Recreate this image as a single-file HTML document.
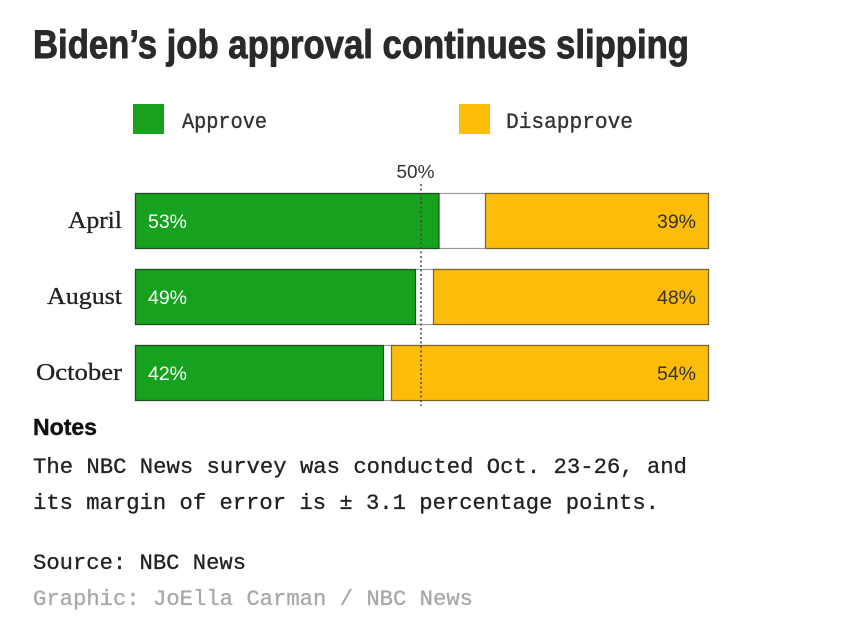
<!DOCTYPE html>
<html>
<head>
<meta charset="utf-8">
<style>
  html,body{margin:0;padding:0;background:#fff;}
  svg{display:block;}
</style>
</head>
<body>
<svg width="860" height="630" viewBox="0 0 860 630" xmlns="http://www.w3.org/2000/svg">
  <rect x="0" y="0" width="860" height="630" fill="#fff"/>

  <!-- Title -->
  <text x="33" y="58" font-family="'Liberation Sans', sans-serif" font-weight="bold" font-size="40" fill="#2a2a2a" stroke="#2a2a2a" stroke-width="0.9" textLength="656" lengthAdjust="spacingAndGlyphs">Biden’s job approval continues slipping</text>

  <!-- Legend -->
  <rect x="133" y="104" width="31" height="30" fill="#16a11f"/>
  <text x="182" y="128" font-family="'Liberation Mono', monospace" font-size="22" fill="#333" stroke="#333" stroke-width="0.35" textLength="85" lengthAdjust="spacingAndGlyphs">Approve</text>
  <rect x="459" y="104" width="31" height="30" fill="#fdbc07"/>
  <text x="506" y="128" font-family="'Liberation Mono', monospace" font-size="22" fill="#333" stroke="#333" stroke-width="0.35" textLength="127" lengthAdjust="spacingAndGlyphs">Disapprove</text>

  <!-- 50% label -->
  <text x="415.5" y="178" text-anchor="middle" font-family="'Liberation Sans', sans-serif" font-size="18" fill="#333" textLength="38" lengthAdjust="spacingAndGlyphs">50%</text>

  <!-- Bars -->
  <g stroke-width="1.2">
    <!-- April -->
    <rect x="135.5" y="193.5" width="573" height="55" fill="#fff" stroke="#9a9a9a"/>
    <rect x="135.5" y="193.5" width="303.5" height="55" fill="#16a11f" stroke="#1c4f1c"/>
    <rect x="485.5" y="193.5" width="223" height="55" fill="#fdbc07" stroke="#7a6420"/>
    <!-- August -->
    <rect x="135.5" y="269.5" width="573" height="55" fill="#fff" stroke="#9a9a9a"/>
    <rect x="135.5" y="269.5" width="280" height="55" fill="#16a11f" stroke="#1c4f1c"/>
    <rect x="433.5" y="269.5" width="275" height="55" fill="#fdbc07" stroke="#7a6420"/>
    <!-- October -->
    <rect x="135.5" y="345.5" width="573" height="55" fill="#fff" stroke="#9a9a9a"/>
    <rect x="135.5" y="345.5" width="248" height="55" fill="#16a11f" stroke="#1c4f1c"/>
    <rect x="391.5" y="345.5" width="317" height="55" fill="#fdbc07" stroke="#7a6420"/>
  </g>

  <!-- 50% dotted line -->
  <line x1="421" y1="184" x2="421" y2="406" stroke="#444" stroke-width="1.5" stroke-dasharray="2,2.5"/>

  <!-- Category labels -->
  <g font-family="'Liberation Serif', serif" font-size="24" fill="#222" stroke="#222" stroke-width="0.3" text-anchor="end">
    <text x="122" y="228" textLength="54" lengthAdjust="spacingAndGlyphs">April</text>
    <text x="122" y="304" textLength="75" lengthAdjust="spacingAndGlyphs">August</text>
    <text x="122" y="380" textLength="86" lengthAdjust="spacingAndGlyphs">October</text>
  </g>

  <!-- Value labels -->
  <g font-family="'Liberation Sans', sans-serif" font-size="19">
    <text x="148" y="228" fill="#fff" textLength="39" lengthAdjust="spacingAndGlyphs">53%</text>
    <text x="148" y="304" fill="#fff" textLength="39" lengthAdjust="spacingAndGlyphs">49%</text>
    <text x="148" y="380" fill="#fff" textLength="39" lengthAdjust="spacingAndGlyphs">42%</text>
    <text x="657" y="228" fill="#333" textLength="39" lengthAdjust="spacingAndGlyphs">39%</text>
    <text x="657" y="304" fill="#333" textLength="39" lengthAdjust="spacingAndGlyphs">48%</text>
    <text x="657" y="380" fill="#333" textLength="39" lengthAdjust="spacingAndGlyphs">54%</text>
  </g>

  <!-- Notes -->
  <text x="33" y="435" font-family="'Liberation Sans', sans-serif" font-weight="bold" font-size="23" fill="#111" stroke="#111" stroke-width="0.4" textLength="64" lengthAdjust="spacingAndGlyphs">Notes</text>
  <g font-family="'Liberation Mono', monospace" font-size="22" fill="#222" stroke="#222" stroke-width="0.3">
    <text x="33" y="473" textLength="654" lengthAdjust="spacingAndGlyphs">The NBC News survey was conducted Oct. 23-26, and</text>
    <text x="33" y="509" textLength="626" lengthAdjust="spacingAndGlyphs">its margin of error is ± 3.1 percentage points.</text>
    <text x="33" y="569" textLength="213" lengthAdjust="spacingAndGlyphs">Source: NBC News</text>
    <text x="33" y="605" fill="#a8a8a8" stroke="#a8a8a8" textLength="440" lengthAdjust="spacingAndGlyphs">Graphic: JoElla Carman / NBC News</text>
  </g>
</svg>
</body>
</html>
